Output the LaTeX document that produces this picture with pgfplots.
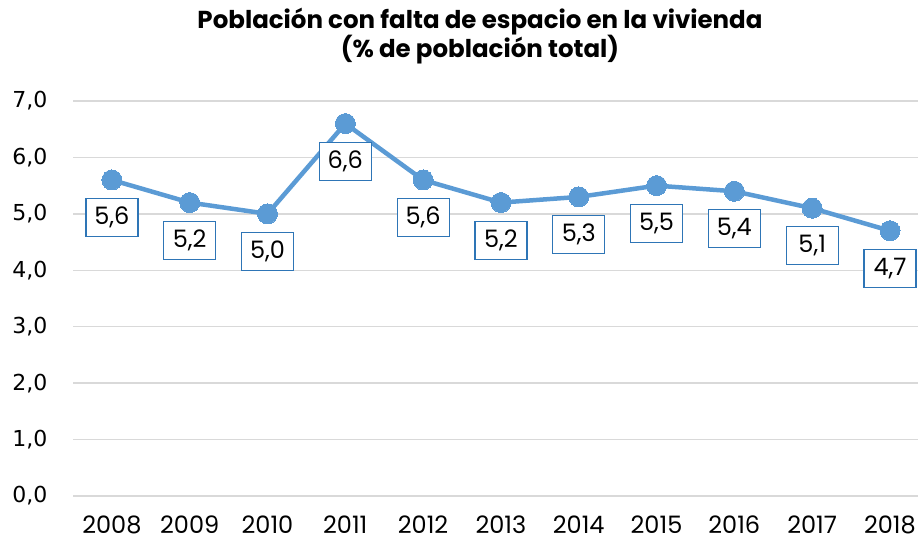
\documentclass[border=0pt]{standalone}
\usepackage{pgfplots}
\pgfplotsset{compat=1.18}
\usepackage{fontspec}
\setmainfont{Poppins}
\newfontfamily\tickfont{DejaVu Sans}
\definecolor{lineblue}{HTML}{5B9BD5}
\definecolor{boxblue}{HTML}{2E75B6}
\definecolor{gridgray}{HTML}{D9D9D9}
\begin{document}
\begin{tikzpicture}
\useasboundingbox (0pt,0pt) rectangle (918pt,541pt);
\node[font=\fontsize{24.5}{28}\selectfont\bfseries, align=center, anchor=center] at (480pt,505pt)
  {Población con falta de espacio en la vivienda\\(\% de población total)};
\begin{axis}[
  at={(73pt,45pt)}, anchor=south west,
  scale only axis, width=845pt, height=395pt,
  xmin=2007.5, xmax=2018.36,
  ymin=0, ymax=7,
  axis line style={draw=none},
  ytick={0,1,...,7},
  xtick={2008,...,2018},
  xticklabels={2008,2009,2010,2011,2012,2013,2014,2015,2016,2017,2018},
  tick style={draw=none},
  ymajorgrids,
  grid style={gridgray, line width=1.5pt},
  yticklabel style={font=\tickfont\fontsize{22}{24}\selectfont, xshift=-22pt},
  xticklabel style={font=\fontsize{24}{26}\selectfont, yshift=-16pt},
  /pgf/number format/assume math mode=true,
  yticklabel={\pgfmathprintnumber[fixed,fixed zerofill,precision=1,use comma]{\tick}},
  clip=false,
  nodes near coords={\pgfmathprintnumber[fixed,fixed zerofill,precision=1,use comma,assume math mode=true]{\pgfplotspointmeta}},
  every node near coord/.append style={anchor=north, yshift=-18pt, draw=boxblue, line width=1.2pt, fill=white,
     font=\fontsize{24}{26}\selectfont, minimum width=52pt, minimum height=38pt, inner sep=1pt, text=black},
]
\addplot[lineblue, line width=4.5pt, mark=*, mark size=10pt, mark options={fill=lineblue, draw=lineblue, line width=0pt}]
coordinates {
(2008,5.6) (2009,5.2) (2010,5.0) (2011,6.6) (2012,5.6) (2013,5.2)
(2014,5.3) (2015,5.5) (2016,5.4) (2017,5.1) (2018,4.7)
};
\end{axis}
\end{tikzpicture}
\end{document}
